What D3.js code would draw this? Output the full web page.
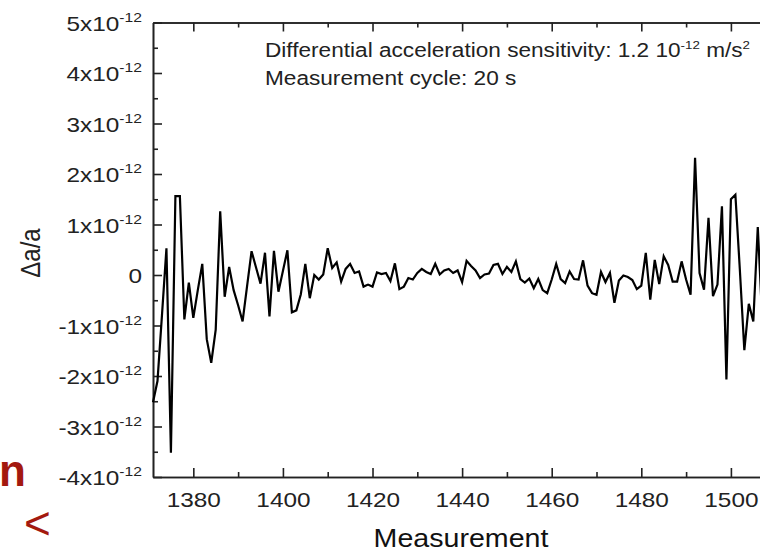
<!DOCTYPE html>
<html>
<head>
<meta charset="utf-8">
<script src="https://cdn.jsdelivr.net/npm/d3@7"></script>
<style>
  body { margin: 0; background: #fff; }
  svg { display: block; font-family: "Liberation Sans", Arial, sans-serif; }
</style>
</head>
<body>
<div id="chart"></div>
<script>
// measurement index, first point and values (units of 1e-12)
const firstMeasurement = 1371;
const deltaA = [
  -2.52, -2.1, -0.8, 0.53, -3.52, 1.56, 1.56, -0.88, -0.15, -0.85,   // 1371-1380
  -0.3, 0.22, -1.27, -1.74, -1.08, 1.26, -0.43, 0.16, -0.3, -0.6,     // 1381-1390
  -0.92, -0.22, 0.47, 0.15, -0.17, 0.44, -0.82, 0.48, -0.33, 0.08,    // 1391-1400
  0.49, -0.74, -0.7, -0.38, 0.22, -0.46, 0.0, -0.09, 0.01, 0.53,      // 1401-1410
  0.14, 0.25, -0.13, 0.12, 0.22, 0.04, 0.07, -0.23, -0.19, -0.23,     // 1411-1420
  0.05, 0.02, 0.04, -0.12, 0.23, -0.28, -0.23, -0.06, -0.09, 0.04,    // 1421-1430
  0.12, 0.06, 0.02, 0.22, 0.01, 0.09, 0.12, 0.04, 0.09, -0.14,        // 1431-1440
  0.28, 0.18, 0.09, -0.06, 0.01, 0.03, 0.2, 0.22, 0.02, 0.16,         // 1441-1450
  0.06, 0.27, -0.08, -0.15, -0.07, -0.26, -0.08, -0.3, -0.36, -0.09,  // 1451-1460
  0.22, -0.08, -0.16, 0.07, -0.08, -0.09, 0.29, -0.21, -0.36, -0.39,  // 1461-1470
  0.06, -0.14, 0.04, -0.55, -0.11, -0.01, -0.04, -0.1, -0.28, -0.21,  // 1471-1480
  0.44, -0.49, 0.3, -0.18, 0.37, 0.2, -0.13, -0.13, 0.27, -0.09,      // 1481-1490
  -0.39, 2.32, 0.04, -0.29, 1.13, -0.42, -0.19, 1.36, -2.07, 1.5,     // 1491-1500
  1.59, 0.1, -1.49, -0.57, -0.92, 0.95, -0.9                          // 1501-1507
];

const xMajorTicks = [1380, 1400, 1420, 1440, 1460, 1480, 1500];
const xMinorTicks = [1390, 1410, 1430, 1450, 1470, 1490];
const yMajorTicks = [-4, -3, -2, -1, 0, 1, 2, 3, 4, 5];
const yMinorTicks = [-3.5, -2.5, -1.5, -0.5, 0.5, 1.5, 2.5, 3.5, 4.5];

const annotation1 = ["Differential acceleration sensitivity: 1.2 10", "-12", " m/s", "2"];
const annotation2 = "Measurement cycle: 20 s";

const data = deltaA.map(function(v, i) { return { m: firstMeasurement + i, v: v }; });

const width = 760, height = 554;
const sx = 1.16; // the source picture is a little wider than tall, text included

const svg = d3.select("#chart").append("svg")
    .attr("width", width)
    .attr("height", height);

const x = d3.scaleLinear().domain([1371, 1510]).range([153, 775.7]);
const y = d3.scaleLinear().domain([-4, 5]).range([477, 22.5]);

const axisColor = "#222";

// bottom axis
const xAxis = svg.append("g")
    .attr("transform", "translate(0," + y(-4) + ")")
    .call(d3.axisBottom(x).tickValues(xMajorTicks).tickSizeInner(-9).tickSizeOuter(0)
        .tickPadding(15).tickFormat(d3.format("d")));
svg.append("g")
    .attr("transform", "translate(0," + y(-4) + ")")
    .call(d3.axisBottom(x).tickValues(xMinorTicks).tickSizeInner(-5).tickSizeOuter(0).tickFormat(""));

// top axis (ticks only)
svg.append("g")
    .attr("transform", "translate(0," + y(5) + ")")
    .call(d3.axisTop(x).tickValues(xMajorTicks).tickSizeInner(-9).tickSizeOuter(0).tickFormat(""));
svg.append("g")
    .attr("transform", "translate(0," + y(5) + ")")
    .call(d3.axisTop(x).tickValues(xMinorTicks).tickSizeInner(-5).tickSizeOuter(0).tickFormat(""));

// left axis
const yAxis = svg.append("g")
    .attr("transform", "translate(" + x(1371) + ",0)")
    .call(d3.axisLeft(y).tickValues(yMajorTicks).tickSizeInner(-9).tickSizeOuter(0)
        .tickPadding(12).tickFormat(""));
svg.append("g")
    .attr("transform", "translate(" + x(1371) + ",0)")
    .call(d3.axisLeft(y).tickValues(yMinorTicks).tickSizeInner(-5).tickSizeOuter(0).tickFormat(""));

svg.selectAll(".domain, .tick line")
    .attr("stroke", axisColor)
    .attr("stroke-width", 1.6);

xAxis.selectAll("text")
    .attr("font-size", 21)
    .attr("fill", "#222")
    .attr("font-family", "Liberation Sans, Arial, sans-serif")
    .attr("transform", "scale(" + sx + ",1)");

yAxis.selectAll(".tick text")
    .attr("font-size", 21)
    .attr("fill", "#222")
    .attr("font-family", "Liberation Sans, Arial, sans-serif")
    .attr("x", 0)
    .attr("dy", "0.36em")
    .attr("transform", "translate(-11,0) scale(" + sx + ",1)")
    .each(function(d) {
        const t = d3.select(this);
        if (d === 0) {
            t.text("0");
            return;
        }
        t.append("tspan").text(d + "x10");
        t.append("tspan").attr("font-size", 13.5).attr("dy", -9).text("-12");
    });

// series line
svg.append("path")
    .datum(data)
    .attr("fill", "none")
    .attr("stroke", "#000")
    .attr("stroke-width", 2.2)
    .attr("stroke-linejoin", "miter")
    .attr("d", d3.line()
        .x(function(d) { return x(d.m); })
        .y(function(d) { return y(d.v); }));

// annotation
const ann = svg.append("text")
    .attr("transform", "translate(265,57) scale(" + sx + ",1)")
    .attr("font-size", 19.5)
    .attr("fill", "#222");
ann.append("tspan").text(annotation1[0]);
ann.append("tspan").attr("font-size", 11.5).attr("dy", -8).text(annotation1[1]);
ann.append("tspan").attr("dy", 8).text(annotation1[2]);
ann.append("tspan").attr("font-size", 11.5).attr("dy", -8).text(annotation1[3]);

svg.append("text")
    .attr("transform", "translate(265,85) scale(" + sx + ",1)")
    .attr("font-size", 19.5)
    .attr("fill", "#222")
    .text(annotation2);

// axis titles
svg.append("text")
    .attr("transform", "translate(40,253) scale(" + sx + ",1) rotate(-90)")
    .attr("text-anchor", "middle")
    .attr("font-size", 24)
    .attr("fill", "#222")
    .text("\u0394a/a");

svg.append("text")
    .attr("transform", "translate(461,547) scale(1.1,1)")
    .attr("text-anchor", "middle")
    .attr("font-size", 26)
    .attr("fill", "#111")
    .text("Measurement");

// stray slide fragments at left edge
svg.append("text")
    .attr("x", 26)
    .attr("y", 486)
    .attr("text-anchor", "end")
    .attr("font-size", 44)
    .attr("font-weight", "bold")
    .attr("font-family", "Liberation Sans Narrow, Arial Narrow, sans-serif")
    .attr("fill", "#a3190f")
    .text("n");
svg.append("text")
    .attr("x", 24)
    .attr("y", 539)
    .attr("font-size", 46)
    .attr("font-family", "Liberation Sans, Arial, sans-serif")
    .attr("fill", "#a3190f")
    .text("<");
</script>
</body>
</html>
